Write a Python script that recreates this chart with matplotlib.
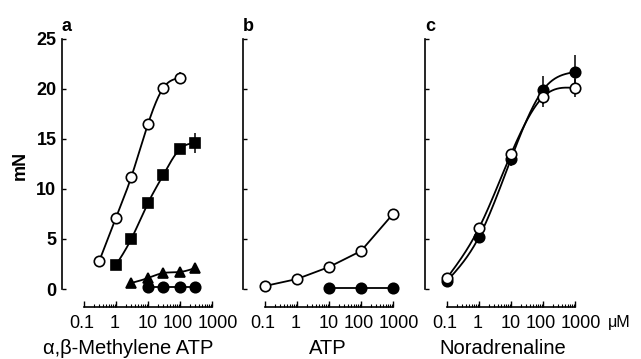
import numpy as np
import matplotlib
matplotlib.use('Agg')
import matplotlib.pyplot as plt
import matplotlib.transforms as mtransforms
from matplotlib.ticker import FixedLocator, NullFormatter

plt.rcParams['font.family'] = ['Liberation Sans', 'DejaVu Sans']

# ---------------- data ----------------
# panel a : alpha,beta-methylene ATP
a_open_x = [0.3, 1, 3, 10, 30, 100]
a_open_y = [2.8, 7.1, 11.2, 16.5, 20.1, 21.1]
a_open_err = [0.0, 0.0, 0.0, 0.5, 0.4, 0.6]
a_sq_x = [1, 3, 10, 30, 100, 300]
a_sq_y = [2.4, 5.0, 8.6, 11.4, 14.0, 14.6]
a_sq_err = [0.0, 0.0, 0.0, 0.0, 0.3, 1.0]
a_tri_x = [3, 10, 30, 100, 300]
a_tri_y = [0.6, 1.1, 1.6, 1.7, 2.1]
a_tri_err = [0.0, 0.3, 0.3, 0.5, 0.4]
a_fill_x = [10, 30, 100, 300]
a_fill_y = [0.2, 0.2, 0.2, 0.2]

# panel b : ATP
b_open_x = [0.1, 1, 10, 100, 1000]
b_open_y = [0.3, 1.0, 2.2, 3.8, 7.5]
b_fill_x = [10, 100, 1000]
b_fill_y = [0.1, 0.1, 0.1]

# panel c : noradrenaline
c_open_x = [0.1, 1, 10, 100, 1000]
c_open_y = [1.1, 6.1, 13.5, 19.2, 20.1]
c_open_err = [0.2, 0.3, 0.5, 1.0, 0.9]
c_fill_x = [0.1, 1, 10, 100, 1000]
c_fill_y = [0.8, 5.2, 13.0, 19.9, 21.7]
c_fill_err = [0.2, 0.3, 0.7, 1.4, 1.7]

x_ticks = [0.1, 1, 10, 100, 1000]
x_ticklabels = ['0.1', '1', '10', '100', '1000']
y_ticks = [0, 5, 10, 15, 20, 25]
y_ticklabels = ['0', '5', '10', '15', '20', '25']
x_labels = ['\u03b1,\u03b2-Methylene ATP', 'ATP', 'Noradrenaline']
panel_letters = ['a', 'b', 'c']
y_label = 'mN'
unit = '\u03bcM'

# small horizontal nudges (pixels) of the x tick labels, as typeset in the original
tick_label_nudge = [-2, -1, 0, -2, 6]


def spline(x, y, n=300):
    """Natural cubic spline through the points, in log10(x)."""
    x = np.log10(np.asarray(x, float))
    y = np.asarray(y, float)
    N = len(x)
    h = np.diff(x)
    A = np.zeros((N, N))
    r = np.zeros(N)
    A[0, 0] = A[-1, -1] = 1.0
    for i in range(1, N - 1):
        A[i, i - 1] = h[i - 1]
        A[i, i] = 2 * (h[i - 1] + h[i])
        A[i, i + 1] = h[i]
        r[i] = 6 * ((y[i + 1] - y[i]) / h[i] - (y[i] - y[i - 1]) / h[i - 1])
    M = np.linalg.solve(A, r)
    xs = np.linspace(x[0], x[-1], n)
    ys = np.empty_like(xs)
    for j, xv in enumerate(xs):
        k = min(np.searchsorted(x, xv, side='right') - 1, N - 2)
        a = x[k + 1] - xv
        b = xv - x[k]
        ys[j] = (M[k] * a**3 / (6 * h[k]) + M[k + 1] * b**3 / (6 * h[k])
                 + (y[k] / h[k] - M[k] * h[k] / 6) * a
                 + (y[k + 1] / h[k] - M[k + 1] * h[k] / 6) * b)
    return 10**xs, ys


W, H = 641, 359
DPI = 100
fig = plt.figure(figsize=(W / DPI, H / DPI), dpi=DPI)

lefts = [62, 243, 425]
axes = []
for i, lp in enumerate(lefts):
    ax = fig.add_axes([lp / W, 1 - 307 / H, 158 / W, (307 - 39) / H])
    ax.set_xscale('log')
    ax.set_xlim(10**(-1 - 22 / 32), 10**(3 + 8 / 32))
    ax.set_ylim(-1.8, 25)
    for s in ['top', 'right']:
        ax.spines[s].set_visible(False)
    ax.spines['left'].set_bounds(0, 25)
    ax.spines['bottom'].set_bounds(0.1, 1000)
    ax.spines['left'].set_linewidth(1.2)
    ax.spines['bottom'].set_linewidth(1.2)
    ax.xaxis.set_major_locator(FixedLocator(x_ticks))
    minors = [m * 10.0**e for e in range(-1, 3) for m in range(2, 10)]
    ax.xaxis.set_minor_locator(FixedLocator(minors))
    ax.xaxis.set_minor_formatter(NullFormatter())
    ax.set_xticklabels(x_ticklabels, fontsize=13)
    ax.tick_params(axis='x', which='major', direction='in', length=4, width=1, pad=6)
    ax.tick_params(axis='x', which='minor', direction='in', length=2, width=0.8)
    for lbl, dx in zip(ax.get_xticklabels(), tick_label_nudge):
        lbl.set_transform(lbl.get_transform() +
                          mtransforms.ScaledTranslation(dx / DPI, 0, fig.dpi_scale_trans))
    ax.set_yticks(y_ticks)
    if i == 0:
        ax.set_yticklabels(y_ticklabels, fontsize=13, fontweight='bold')
    else:
        ax.set_yticklabels([])
    ax.tick_params(axis='y', direction='in', length=3, width=1, pad=4)
    ax.text(0.0, 1.015, panel_letters[i], transform=ax.transAxes, fontsize=13,
            fontweight='bold', ha='left', va='bottom')
    axes.append(ax)

ms = 7.5
lw = 1.3
kw_open = dict(marker='o', ms=ms, mfc='white', mec='black', mew=1.2, ls='none',
               ecolor='black', elinewidth=1.1, capsize=0, zorder=4, clip_on=False)
kw_fill = dict(marker='o', ms=ms, mfc='black', mec='black', mew=1.2, ls='none',
               ecolor='black', elinewidth=1.1, capsize=0, zorder=4, clip_on=False)

# panel a
ax = axes[0]
xs, ys = spline(a_open_x, a_open_y)
ax.plot(xs, ys, color='black', lw=lw, zorder=2)
ax.errorbar(a_open_x, a_open_y, yerr=a_open_err, **kw_open)
xs, ys = spline(a_sq_x, a_sq_y)
ax.plot(xs, ys, color='black', lw=lw, zorder=2)
ax.errorbar(a_sq_x, a_sq_y, yerr=a_sq_err, **dict(kw_fill, marker='s'))
xs, ys = spline(a_tri_x, a_tri_y)
ax.plot(xs, ys, color='black', lw=lw, zorder=2)
ax.errorbar(a_tri_x, a_tri_y, yerr=a_tri_err, **dict(kw_fill, marker='^'))
ax.plot(a_fill_x, a_fill_y, color='black', lw=lw, zorder=2)
ax.errorbar(a_fill_x, a_fill_y, **kw_fill)

# panel b
ax = axes[1]
ax.plot(b_open_x, b_open_y, color='black', lw=lw, zorder=2)
ax.errorbar(b_open_x, b_open_y, **kw_open)
ax.plot(b_fill_x, b_fill_y, color='black', lw=lw, zorder=2)
ax.errorbar(b_fill_x, b_fill_y, **kw_fill)

# panel c
ax = axes[2]
xs, ys = spline(c_open_x, c_open_y)
ax.plot(xs, ys, color='black', lw=lw, zorder=2)
xs, ys = spline(c_fill_x, c_fill_y)
ax.plot(xs, ys, color='black', lw=lw, zorder=2)
ax.errorbar(c_fill_x, c_fill_y, yerr=c_fill_err, **kw_fill)
ax.errorbar(c_open_x, c_open_y, yerr=c_open_err, **kw_open)

# labels
label_cx = [128, 328, 503]
for cx, lab in zip(label_cx, x_labels):
    fig.text(cx / W, 1 - 349 / H, lab, fontsize=14.5, ha='center', va='center')
fig.text(20 / W, 1 - 165 / H, y_label, fontsize=13, rotation=90, ha='center',
         va='center', fontweight='bold')
fig.text(608 / W, 1 - 322 / H, unit, fontsize=11.5, ha='left', va='center')

fig.savefig('out.png', dpi=DPI)
